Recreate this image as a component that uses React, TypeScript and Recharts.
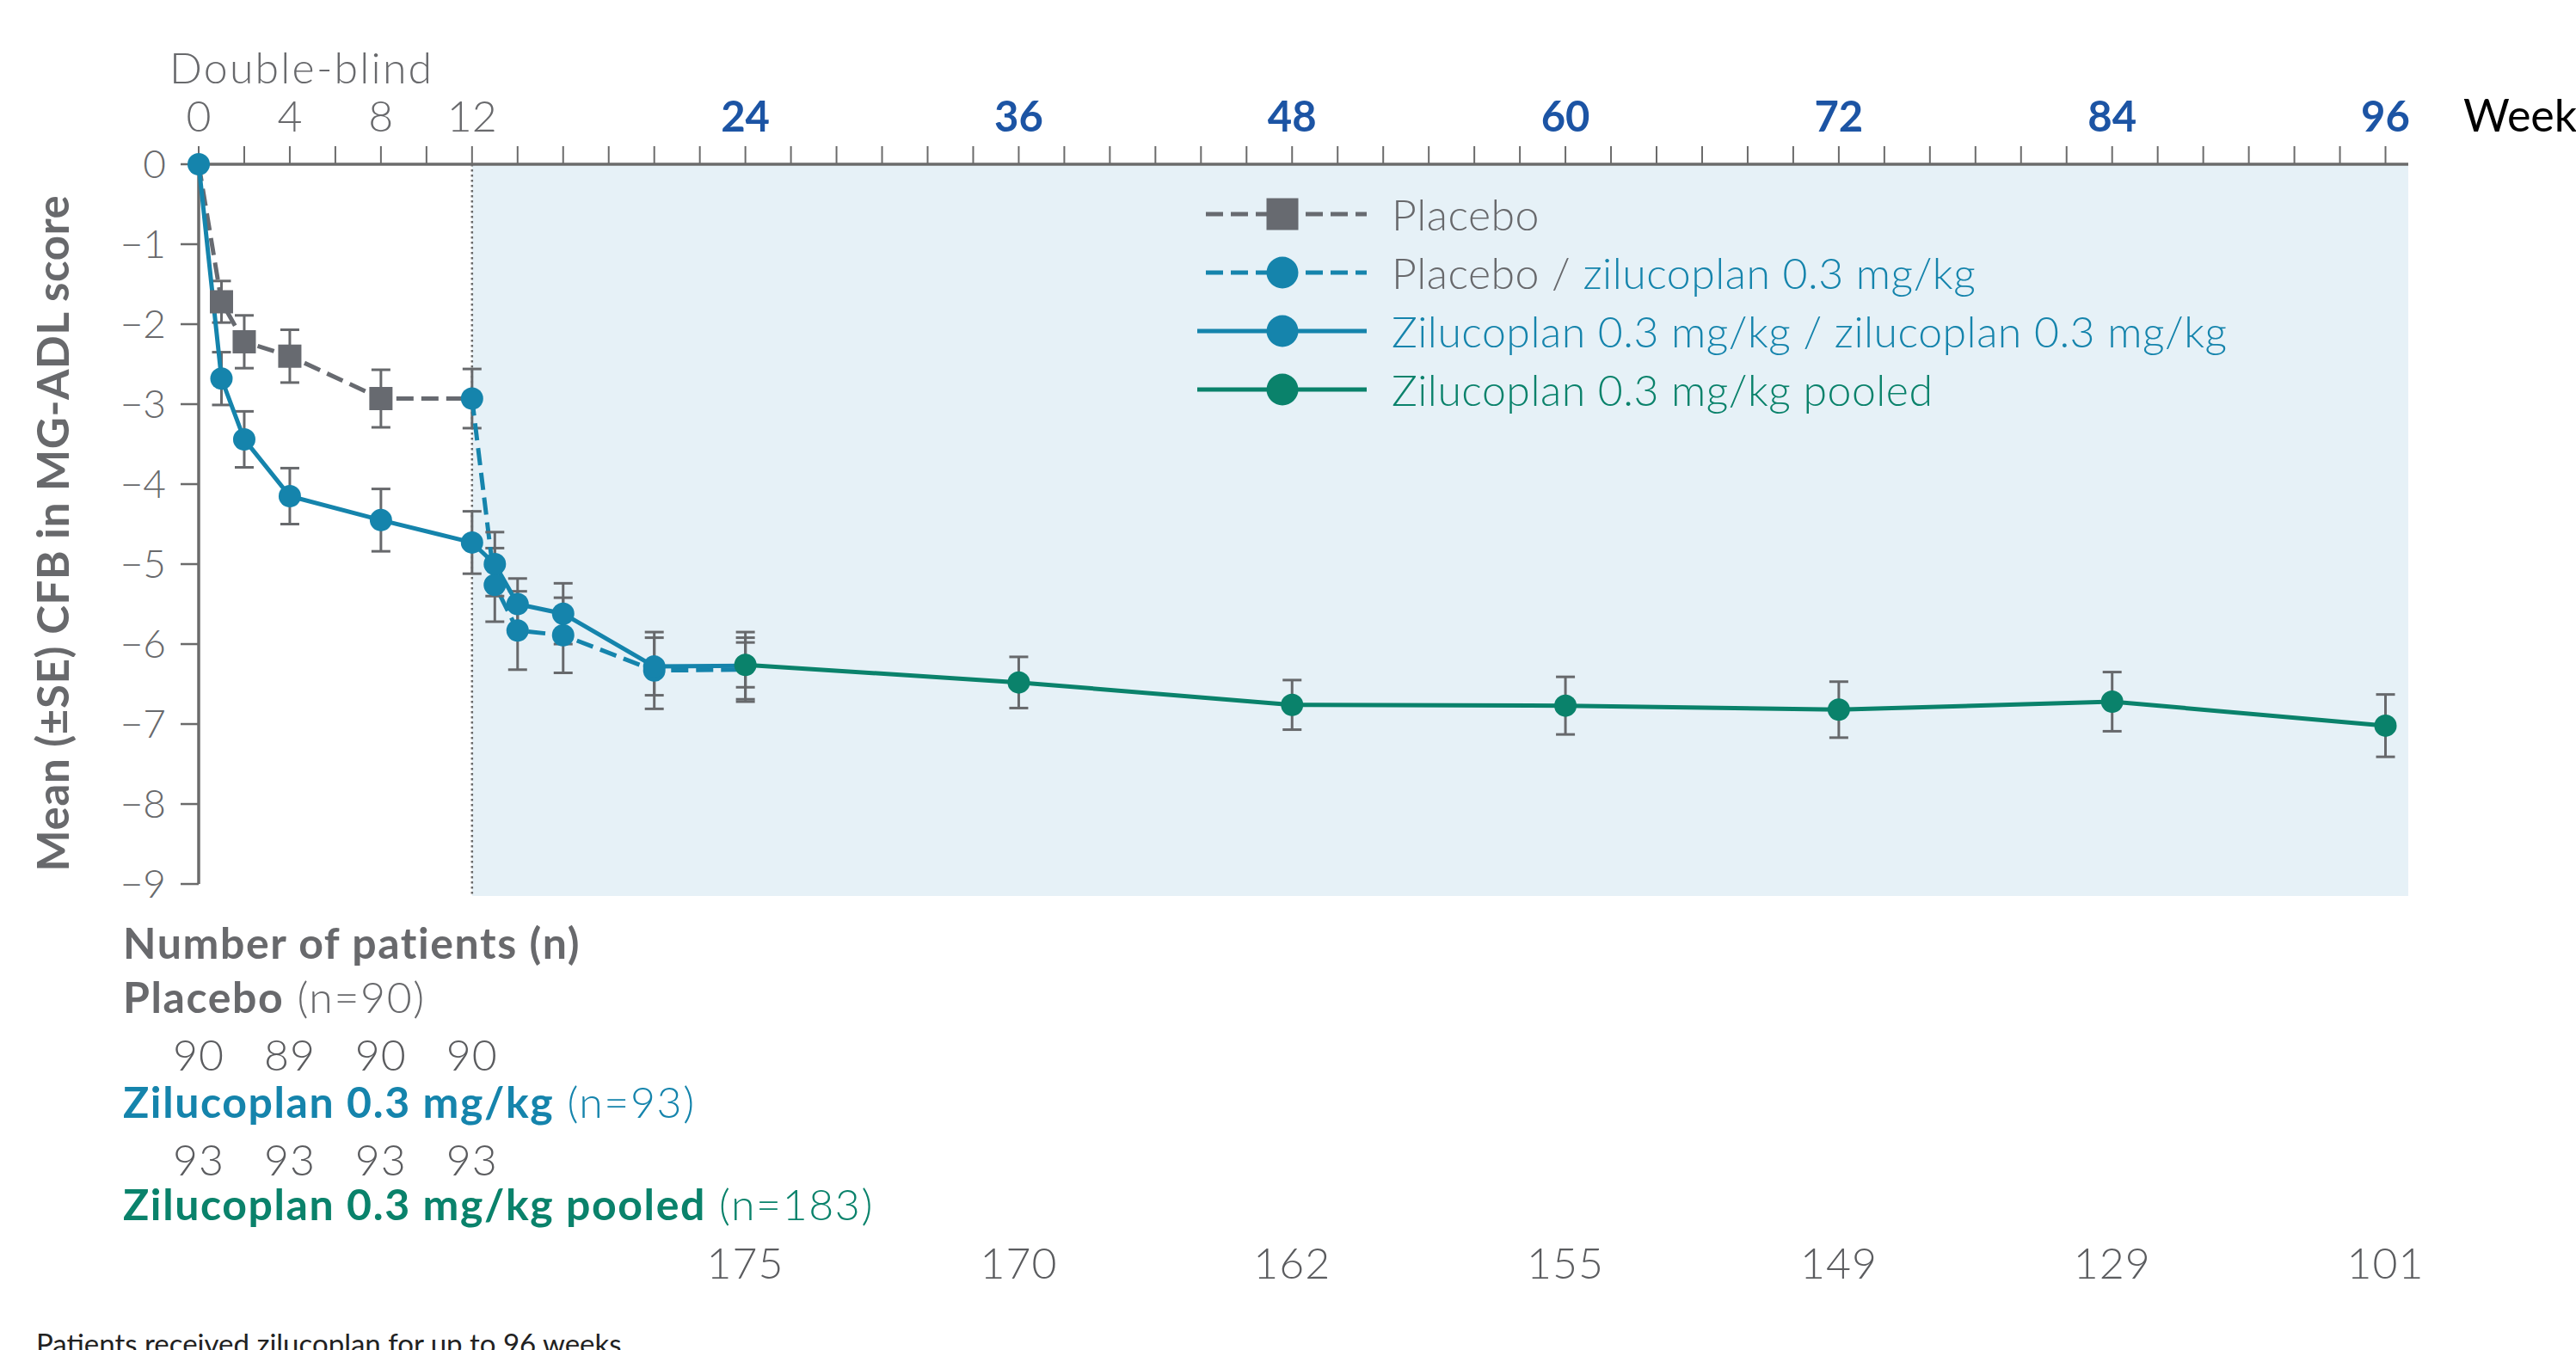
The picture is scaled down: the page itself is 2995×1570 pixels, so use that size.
import {
  ErrorBar,
  Legend,
  Line,
  LineChart,
  ReferenceArea,
  ReferenceLine,
  XAxis,
  YAxis,
} from 'recharts';

// weeks where at least one group was measured
const weeks = [0, 1, 2, 4, 8, 12, 13, 14, 16, 20, 24, 36, 48, 60, 72, 84, 96];

const placebo = [0, -1.72, -2.22, -2.4, -2.93, -2.93, null, null, null, null, null, null, null, null, null, null, null];
const placeboSE = [null, 0.26, 0.33, 0.33, 0.36, 0.37, null, null, null, null, null, null, null, null, null, null, null];

const placeboZil = [null, null, null, null, null, -2.93, -5.26, -5.83, -5.89, -6.33, -6.32, null, null, null, null, null, null];
const placeboZilSE = [null, null, null, null, null, null, 0.46, 0.49, 0.47, 0.48, 0.4, null, null, null, null, null, null];

const zil = [0, -2.68, -3.44, -4.15, -4.45, -4.73, -5.0, -5.5, -5.62, -6.28, -6.27, null, null, null, null, null, null];
const zilSE = [null, 0.33, 0.35, 0.35, 0.39, 0.39, 0.4, 0.32, 0.38, 0.36, 0.42, null, null, null, null, null, null];

const pooled = [null, null, null, null, null, null, null, null, null, null, -6.26, -6.48, -6.76, -6.77, -6.82, -6.72, -7.02];
const pooledSE = [null, null, null, null, null, null, null, null, null, null, 0.28, 0.32, 0.31, 0.36, 0.35, 0.37, 0.39];

// axis ticks
const topTicks = Array.from({ length: 49 }, (_, i) => i * 2);
const topLabels = [0, 4, 8, 12, 24, 36, 48, 60, 72, 84, 96];
const yTicks = [0, -1, -2, -3, -4, -5, -6, -7, -8, -9];

// number of patients table
const dbWeeks = [0, 4, 8, 12];
const placeboN = [90, 89, 90, 90];
const zilN = [93, 93, 93, 93];
const olWeeks = [24, 36, 48, 60, 72, 84, 96];
const pooledN = [175, 170, 162, 155, 149, 129, 101];

const FONT = 'Lato, "Open Sans", sans-serif';
const GRAY_TEXT = '#68696c';
const NUM_TEXT = '#5b5c5f';
const GRAY_MARK = '#676a70';
const BLUE = '#1584ac';
const BLUE_TICK = '#1c54a4';
const GREEN = '#0a826b';
const SHADE = '#e6f1f7';
const AXIS = '#6b6b6b';
const ERR = '#67696c';

const legendItems = [
  { parts: [['Placebo', GRAY_TEXT]], color: GRAY_MARK, dashed: true, square: true },
  { parts: [['Placebo / ', GRAY_TEXT], ['zilucoplan 0.3 mg/kg', BLUE]], color: BLUE, dashed: true, square: false },
  { parts: [['Zilucoplan 0.3 mg/kg / zilucoplan 0.3 mg/kg', BLUE]], color: BLUE, dashed: false, square: false },
  { parts: [['Zilucoplan 0.3 mg/kg pooled', GREEN]], color: GREEN, dashed: false, square: false },
];

const rows = weeks.map((week, i) => ({
  week,
  placebo: placebo[i],
  placeboSE: placeboSE[i],
  placeboZil: placeboZil[i],
  placeboZilSE: placeboZilSE[i],
  zil: zil[i],
  zilSE: zilSE[i],
  pooled: pooled[i],
  pooledSE: pooledSE[i],
}));

const makeDot = (color: string, square: boolean, skipWeeks: number[]) => (p: any) => {
  const { cx, cy, value, payload, index } = p;
  if (cx == null || cy == null || value == null || skipWeeks.includes(payload.week)) {
    return <g key={`skip-${index}`} />;
  }
  if (square) {
    return <rect key={`sq-${index}`} x={cx - 13.5} y={cy - 13.5} width={27} height={27} fill={color} />;
  }
  return <circle key={`c-${index}`} cx={cx} cy={cy} r={13} fill={color} />;
};

const TopTick = (p: any) => {
  const { x, y, payload } = p;
  const w = payload.value;
  if (!topLabels.includes(w)) return <g />;
  const openLabel = w > 12;
  return (
    <text
      x={x}
      y={y}
      textAnchor="middle"
      fontFamily={FONT}
      fontSize={openLabel ? 49 : 50}
      fontWeight={openLabel ? 700 : 300}
      fill={openLabel ? BLUE_TICK : GRAY_TEXT}
    >
      {w}
    </text>
  );
};

const CountTick = (p: any) => {
  const { x, y, payload } = p;
  const i = dbWeeks.indexOf(payload.value);
  const j = olWeeks.indexOf(payload.value);
  const common = {
    x,
    textAnchor: 'middle' as const,
    fontFamily: FONT,
    fontSize: 50,
    fontWeight: 300,
    letterSpacing: 1,
    fill: NUM_TEXT,
  };
  return (
    <g>
      {i >= 0 && <text {...common} y={y + 203}>{placeboN[i]}</text>}
      {i >= 0 && <text {...common} y={y + 325}>{zilN[i]}</text>}
      {j >= 0 && <text {...common} y={y + 445}>{pooledN[j]}</text>}
    </g>
  );
};

function LegendBox() {
  return (
    <div style={{ fontFamily: FONT }}>
      {legendItems.map((item, k) => (
        <div key={k} style={{ display: 'flex', alignItems: 'center', height: 68 }}>
          <svg width={197} height={40} style={{ display: 'block' }}>
            <line
              x1={item.dashed ? 10 : 0}
              x2={197}
              y1={20}
              y2={20}
              stroke={item.color}
              strokeWidth={5}
              strokeDasharray={item.dashed ? '20 9' : undefined}
            />
            {item.square ? (
              <rect x={80.5} y={1.5} width={37} height={37} fill={item.color} />
            ) : (
              <circle cx={99} cy={20} r={18.5} fill={item.color} />
            )}
          </svg>
          <span
            style={{
              marginLeft: 29,
              fontSize: 50,
              fontWeight: 300,
              letterSpacing: 0.5,
              whiteSpace: 'nowrap',
              lineHeight: '50px',
            }}
          >
            {item.parts.map(([t, c], m) => (
              <span key={m} style={{ color: c }}>
                {t}
              </span>
            ))}
          </span>
        </div>
      ))}
    </div>
  );
}

export default function App() {
  return (
    <div
      style={{
        position: 'absolute',
        left: 0,
        top: 0,
        width: 2995,
        height: 1570,
        overflow: 'hidden',
        background: '#fff',
      }}
    >
      <LineChart width={2995} height={1570} data={rows} margin={{ top: 71, right: 195, bottom: 53, left: 131 }}>
        <ReferenceArea
          xAxisId="w"
          x1={12}
          x2={97}
          y1={0}
          y2={-9.15}
          fill={SHADE}
          fillOpacity={1}
          stroke="none"
          ifOverflow="visible"
        />
        <XAxis
          xAxisId="w"
          dataKey="week"
          type="number"
          orientation="top"
          domain={[0, 97]}
          ticks={topTicks}
          interval={0}
          height={120}
          tickSize={21}
          tickMargin={17}
          axisLine={{ stroke: AXIS, strokeWidth: 3.5 }}
          tickLine={{ stroke: AXIS, strokeWidth: 2 }}
          tick={TopTick}
        />
        <XAxis
          xAxisId="n"
          dataKey="week"
          type="number"
          orientation="bottom"
          domain={[0, 97]}
          ticks={[...dbWeeks, ...olWeeks]}
          interval={0}
          height={475}
          tickSize={0}
          tickMargin={0}
          axisLine={false}
          tickLine={false}
          tick={CountTick}
        />
        <YAxis
          type="number"
          domain={[-9.15, 0]}
          ticks={yTicks}
          interval={0}
          width={100}
          tickSize={21}
          tickMargin={17}
          axisLine={false}
          tickLine={{ stroke: AXIS, strokeWidth: 2.5 }}
          tick={{ fontSize: 46, fill: GRAY_TEXT, fontFamily: FONT, fontWeight: 300 }}
          tickFormatter={(v: number) => (v === 0 ? '0' : `\u2212${Math.abs(v)}`)}
        />
        <ReferenceLine
          xAxisId="w"
          segment={[
            { x: 0, y: 0 },
            { x: 0, y: -9 },
          ]}
          stroke={AXIS}
          strokeWidth={3.5}
          ifOverflow="visible"
        />
        <ReferenceLine xAxisId="w" x={12} stroke={AXIS} strokeWidth={2.5} strokeDasharray="2.5 3.5" />
        <Legend
          layout="vertical"
          align="center"
          verticalAlign="middle"
          wrapperStyle={{ left: 1392, top: 215, width: 1300, height: 280 }}
          content={() => <LegendBox />}
        />
        <Line
          xAxisId="w"
          dataKey="placebo"
          type="linear"
          stroke={GRAY_MARK}
          strokeWidth={5}
          strokeDasharray="20 9"
          dot={makeDot(GRAY_MARK, true, [0, 12])}
          activeDot={false}
          isAnimationActive={false}
        >
          <ErrorBar dataKey="placeboSE" direction="y" width={11} stroke={ERR} strokeWidth={3} />
        </Line>
        <Line
          xAxisId="w"
          dataKey="placeboZil"
          type="linear"
          stroke={BLUE}
          strokeWidth={5}
          strokeDasharray="20 9"
          dot={makeDot(BLUE, false, [24])}
          activeDot={false}
          isAnimationActive={false}
        >
          <ErrorBar dataKey="placeboZilSE" direction="y" width={11} stroke={ERR} strokeWidth={3} />
        </Line>
        <Line
          xAxisId="w"
          dataKey="zil"
          type="linear"
          stroke={BLUE}
          strokeWidth={5}
          dot={makeDot(BLUE, false, [24])}
          activeDot={false}
          isAnimationActive={false}
        >
          <ErrorBar dataKey="zilSE" direction="y" width={11} stroke={ERR} strokeWidth={3} />
        </Line>
        <Line
          xAxisId="w"
          dataKey="pooled"
          type="linear"
          stroke={GREEN}
          strokeWidth={5}
          dot={makeDot(GREEN, false, [])}
          activeDot={false}
          isAnimationActive={false}
        >
          <ErrorBar dataKey="pooledSE" direction="y" width={11} stroke={ERR} strokeWidth={3} />
        </Line>
      </LineChart>

      <svg
        width={2995}
        height={1570}
        style={{ position: 'absolute', left: 0, top: 0, pointerEvents: 'none' }}
        fontFamily={FONT}
      >
        <text x={197} y={97} fontSize={50} fontWeight={300} letterSpacing={2.2} fill={GRAY_TEXT}>
          Double-blind
        </text>
        <text x={2864} y={153} fontSize={52} fill="#000">
          Week
        </text>
        <text
          x={80}
          y={620}
          fontSize={51}
          fontWeight={700}
          letterSpacing={0.6}
          fill={GRAY_TEXT}
          textAnchor="middle"
          transform="rotate(-90 80 620)"
        >
          Mean (±SE) CFB in MG-ADL score
        </text>
        <g fontSize={50} letterSpacing={1.6}>
          <text x={143} y={1115} fontWeight={700} fill={GRAY_TEXT}>
            Number of patients (n)
          </text>
          <text x={143} y={1178} fill={GRAY_TEXT}>
            <tspan fontWeight={700}>Placebo</tspan>
            <tspan fontWeight={300}> (n=90)</tspan>
          </text>
          <text x={143} y={1300} fill={BLUE}>
            <tspan fontWeight={700}>Zilucoplan 0.3 mg/kg</tspan>
            <tspan fontWeight={300}> (n=93)</tspan>
          </text>
          <text x={143} y={1419} fill={GREEN}>
            <tspan fontWeight={700}>Zilucoplan 0.3 mg/kg pooled</tspan>
            <tspan fontWeight={300}> (n=183)</tspan>
          </text>
        </g>
        <text x={42} y={1575} fontSize={33} fill="#222">
          Patients received zilucoplan for up to 96 weeks
        </text>
      </svg>
    </div>
  );
}
